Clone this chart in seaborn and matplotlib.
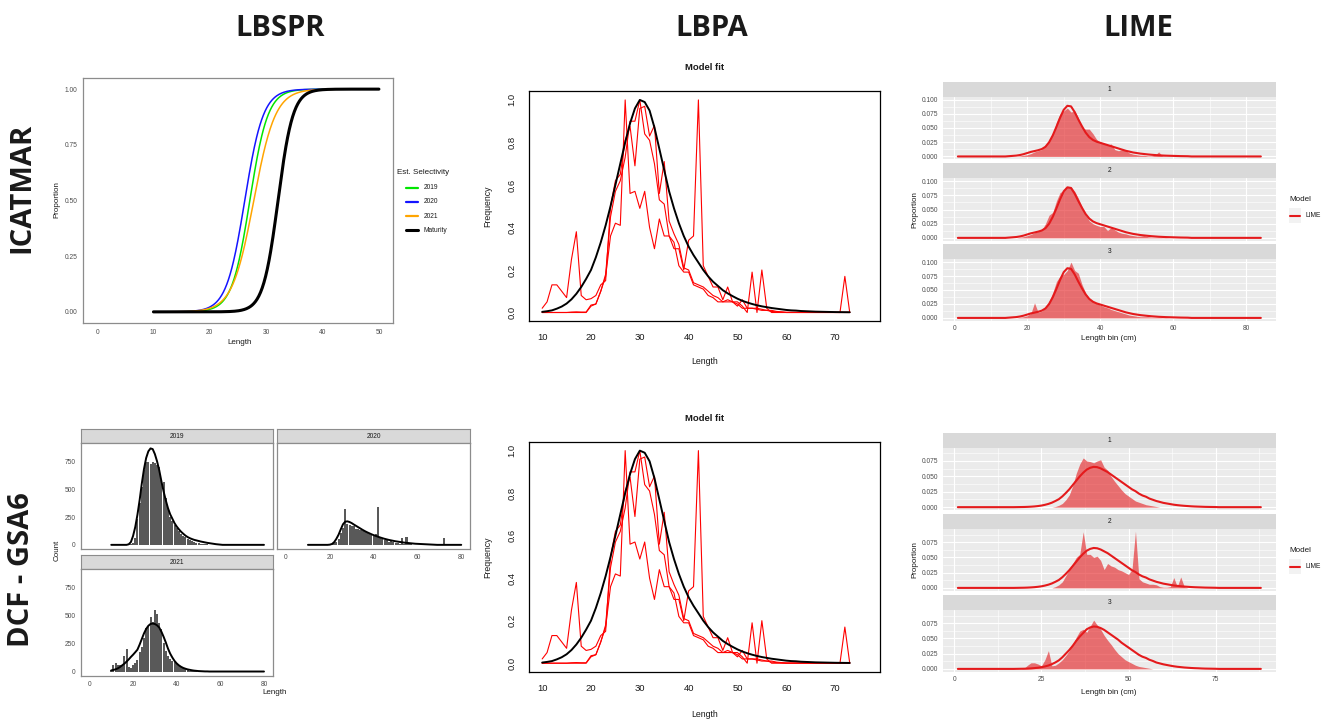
import numpy as np
import pandas as pd
import matplotlib
matplotlib.use("Agg")
import matplotlib.pyplot as plt
import seaborn as sns
from matplotlib.lines import Line2D
from matplotlib.patches import Rectangle
from matplotlib.ticker import FixedLocator

sns.set_style("white")
plt.rcParams["font.family"] = ["Liberation Sans", "DejaVu Sans"]

# ---------------- LBSPR: estimated selectivity (ICATMAR) ----------------
sel_years = ["2019", "2020", "2021"]
sel_l50 = [27.1, 26.2, 27.8]
sel_l95 = [31.8, 31.0, 33.4]
mat_l50, mat_l95 = 32.1, 36.0
sel_colors = ["#00E600", "#1414FF", "#FFA500"]

# ---------------- LBSPR: length counts and fits (DCF - GSA6) ----------------
cnt_2019_start = 14
cnt_2019 = [2, 3, 3, 4, 5, 5,
            20, 60, 230, 380, 520, 670, 740, 740, 730, 745,
            735, 720, 700, 580, 560, 420, 330, 250, 210, 180,
            150, 120, 100, 80, 70, 55, 45, 35, 28, 20,
            15, 10, 8, 5, 4, 3]
fit_2019 = [0, 0, 0, 0, 0, 0, 0, 0, 5, 25,
            80, 160, 270, 400, 550, 680, 780, 840, 866, 860,
            815, 750, 670, 570, 480, 400, 330, 275, 235, 195,
            165, 140, 118, 100, 83, 70, 60, 52, 45, 40,
            35, 30, 26, 22, 18, 15, 12, 9, 6, 4, 2]

cnt_2020_start = 20
cnt_2020 = [2, 5, 15, 30, 50, 110, 150, 321, 190, 180,
            165, 170, 145, 140, 130, 120, 115, 105, 95, 90,
            85, 95, 336, 60, 50, 45, 40, 30, 35, 22,
            20, 15, 8, 62, 8, 68, 6, 4, 3, 2,
            2, 1, 1, 1, 0, 0, 0, 0, 0, 0,
            0, 0, 58, 0]
fit_2020 = [0, 0, 0, 0, 0, 0, 0, 0, 0, 0,
            2, 8, 25, 55, 92, 140, 185, 208, 211, 205,
            195, 182, 170, 158, 146, 134, 123, 113, 104, 95,
            87, 80, 73, 66, 60, 54, 49, 44, 40, 36,
            32, 29, 26, 23, 20, 18, 16, 14, 12, 10,
            9, 8, 7, 6, 5, 4, 3, 2, 1]

cnt_2021_start = 10
cnt_2021 = [10, 55, 72, 60, 55, 45, 137, 203, 40, 35,
            55, 75, 100, 170, 221, 301, 391, 406, 487, 445,
            547, 511, 436, 376, 256, 182, 140, 116, 92, 85,
            77, 50, 38, 28, 23, 15, 8, 6, 4, 3, 2]
fit_2021 = [10, 14, 20, 28, 40, 55, 70, 88, 108, 130,
            150, 172, 195, 240, 290, 340, 380, 408, 424, 428,
            424, 412, 392, 355, 310, 260, 205, 160, 125, 95,
            72, 55, 42, 32, 25, 19, 15, 11, 8, 6,
            4, 3, 2, 1, 1]
fit_start, fit_end = 10, 80

# ---------------- LBPA: observed and fitted length frequencies ----------------
lbpa_len = np.arange(10, 74)
lbpa_2019 = [0, 0, 0, 0, 0, 0, 0.002, 0.003, 0.002, 0.002,
             0.035, 0.04, 0.1, 0.18, 0.45, 0.57, 0.62, 0.73, 0.9, 0.9,
             1.0, 0.84, 0.81, 0.7, 0.53, 0.51, 0.36, 0.33, 0.22, 0.19,
             0.19, 0.13, 0.12, 0.11, 0.08, 0.07, 0.05, 0.05, 0.05, 0.05,
             0.04, 0.02, 0.02, 0.02, 0.015, 0.01, 0.01, 0.005, 0.003, 0.002,
             0.001, 0.001, 0.001, 0.001, 0.001, 0.001, 0.001, 0.001, 0.001, 0.001,
             0.001, 0.001, 0.001, 0.001]
lbpa_2020 = [0, 0, 0, 0, 0, 0, 0, 0, 0, 0,
             0.03, 0.04, 0.1, 0.17, 0.36, 0.42, 0.41, 1.0, 0.56, 0.57,
             0.49, 0.57, 0.4, 0.3, 0.44, 0.36, 0.36, 0.3, 0.3, 0.2,
             0.34, 0.36, 1.0, 0.22, 0.17, 0.12, 0.12, 0.06, 0.12, 0.05,
             0.05, 0.03, 0.0, 0.19, 0.0, 0.2, 0.02, 0.0, 0.0, 0.0,
             0, 0, 0, 0, 0, 0, 0, 0, 0, 0,
             0, 0, 0.17, 0]
lbpa_2021 = [0.02, 0.05, 0.13, 0.13, 0.1, 0.07, 0.25, 0.38, 0.08, 0.06,
             0.065, 0.08, 0.13, 0.15, 0.5, 0.62, 0.65, 0.81, 0.875, 0.69,
             0.96, 0.97, 0.83, 0.88, 0.56, 0.71, 0.43, 0.37, 0.32, 0.21,
             0.2, 0.14, 0.13, 0.12, 0.1, 0.08, 0.07, 0.05, 0.06, 0.05,
             0.03, 0.06, 0.02, 0.02, 0.02, 0.015, 0.01, 0.01, 0.005, 0.003,
             0, 0, 0, 0, 0, 0, 0, 0, 0, 0,
             0, 0, 0, 0]
lbpa_fit = [0.003, 0.006, 0.01, 0.018, 0.028, 0.042, 0.062, 0.088, 0.12, 0.158,
            0.2, 0.26, 0.33, 0.41, 0.5, 0.6, 0.7, 0.8, 0.89, 0.96,
            1.0, 0.99, 0.95, 0.87, 0.77, 0.67, 0.57, 0.49, 0.42, 0.36,
            0.31, 0.27, 0.235, 0.2, 0.17, 0.145, 0.125, 0.105, 0.09, 0.077,
            0.065, 0.055, 0.047, 0.04, 0.034, 0.029, 0.025, 0.021, 0.018, 0.015,
            0.012, 0.01, 0.009, 0.007, 0.006, 0.005, 0.004, 0.0035, 0.003, 0.0025,
            0.002, 0.0017, 0.0014, 0.0012]

# ---------------- LIME: observed proportions and model fit ----------------
icat_bins = np.arange(1, 85)
icat_obs = [
    [0.001, 0.002, 0.003, 0.005, 0.008, 0.01, 0.012, 0.02, 0.028, 0.04,
     0.06, 0.075, 0.08, 0.085, 0.078, 0.08, 0.068, 0.05, 0.048, 0.048,
     0.04, 0.03, 0.025, 0.022, 0.02, 0.022, 0.012, 0.01, 0.012, 0.01,
     0.006, 0.004, 0.003, 0.002, 0.002, 0.001, 0.001, 0.002, 0.008, 0.001,
     0.0005, 0.0005, 0.0005],
    [0.001, 0.002, 0.004, 0.006, 0.009, 0.011, 0.014, 0.025, 0.04, 0.045,
     0.065, 0.08, 0.083, 0.091, 0.09, 0.082, 0.07, 0.055, 0.04, 0.03,
     0.025, 0.022, 0.02, 0.02, 0.013, 0.018, 0.014, 0.01, 0.008, 0.007,
     0.005, 0.004, 0.003, 0.003, 0.004, 0.002, 0.001, 0.001, 0.001, 0.0005,
     0.0005, 0.0, 0.0],
    [0.001, 0.002, 0.004, 0.008, 0.027, 0.01, 0.012, 0.018, 0.03, 0.045,
     0.065, 0.075, 0.078, 0.085, 0.1, 0.085, 0.08, 0.06, 0.045, 0.035,
     0.03, 0.026, 0.023, 0.02, 0.018, 0.015, 0.013, 0.011, 0.009, 0.007,
     0.005, 0.004, 0.003, 0.002, 0.002, 0.002, 0.001, 0.001, 0.001, 0.0005,
     0.0005, 0.0, 0.0],
]
icat_obs_first = 18
icat_fit = [0.0005, 0.001, 0.0015, 0.0025, 0.004, 0.006, 0.008, 0.0095, 0.011, 0.013,
            0.017, 0.025, 0.037, 0.052, 0.068, 0.082, 0.089, 0.088, 0.078, 0.065,
            0.053, 0.042, 0.034, 0.029, 0.026, 0.024, 0.022, 0.02, 0.018, 0.016,
            0.014, 0.012, 0.01, 0.0085, 0.007, 0.006, 0.005, 0.0043, 0.0036, 0.003,
            0.0025, 0.002, 0.0017, 0.0014, 0.0012, 0.001, 0.0008, 0.0006, 0.0005, 0.0004]
icat_fit_first = 15

dcf_bins = np.arange(1, 89)
dcf_obs = [
    [0, 0, 0, 0, 0, 0, 0, 0, 0, 0, 0,
     0.001, 0.003, 0.006, 0.012, 0.02, 0.035, 0.055, 0.07, 0.08, 0.075,
     0.074, 0.072, 0.075, 0.077, 0.065, 0.06, 0.05, 0.042, 0.035, 0.028,
     0.022, 0.018, 0.014, 0.01, 0.008, 0.006, 0.004, 0.003, 0.002, 0.001],
    [0, 0, 0, 0, 0, 0, 0, 0, 0, 0, 0,
     0.002, 0.005, 0.01, 0.02, 0.03, 0.04, 0.05, 0.055, 0.092, 0.055,
     0.055, 0.05, 0.052, 0.045, 0.03, 0.04, 0.036, 0.034, 0.03, 0.028,
     0.025, 0.022, 0.03, 0.093, 0.015, 0.01, 0.008, 0.006, 0.006, 0.005,
     0.002, 0.001, 0.001, 0.002, 0.017, 0.002, 0.018, 0.002],
    [0, 0, 0.001, 0.006, 0.01, 0.01, 0.008, 0.005, 0.015, 0.03, 0.005,
     0.006, 0.01, 0.015, 0.022, 0.03, 0.04, 0.052, 0.062, 0.065, 0.06,
     0.07, 0.08, 0.072, 0.065, 0.055, 0.047, 0.04, 0.032, 0.025, 0.02,
     0.015, 0.012, 0.009, 0.006, 0.004, 0.003, 0.002, 0.001],
]
dcf_obs_first = 18
dcf_fit = [
    [0.0001, 0.0002, 0.0003, 0.0005, 0.0008, 0.0012, 0.0018, 0.0026, 0.0038, 0.0053,
     0.0073, 0.01, 0.013, 0.0175, 0.023, 0.029, 0.036, 0.043, 0.05, 0.056,
     0.061, 0.064, 0.0655, 0.065, 0.063, 0.06, 0.057, 0.053, 0.049, 0.045,
     0.041, 0.037, 0.033, 0.029, 0.026, 0.022, 0.019, 0.017, 0.014, 0.012,
     0.01, 0.0085, 0.007, 0.006, 0.005, 0.004, 0.0033, 0.0027, 0.0022, 0.0018,
     0.0014, 0.0011, 0.0009, 0.0007, 0.0005, 0.0004, 0.0003, 0.0002],
    [0.0001, 0.0002, 0.0003, 0.0005, 0.0008, 0.0012, 0.0018, 0.0026, 0.0038, 0.0053,
     0.0073, 0.01, 0.013, 0.0175, 0.023, 0.029, 0.036, 0.043, 0.05, 0.056,
     0.061, 0.064, 0.0655, 0.065, 0.063, 0.06, 0.057, 0.053, 0.049, 0.045,
     0.041, 0.037, 0.033, 0.029, 0.026, 0.022, 0.019, 0.017, 0.014, 0.012,
     0.01, 0.0085, 0.007, 0.006, 0.005, 0.004, 0.0033, 0.0027, 0.0022, 0.0018,
     0.0014, 0.0011, 0.0009, 0.0007, 0.0005, 0.0004, 0.0003, 0.0002],
    [0.0001, 0.0002, 0.0003, 0.0005, 0.0008, 0.0013, 0.0019, 0.0028, 0.004, 0.0056,
     0.0078, 0.0106, 0.014, 0.019, 0.025, 0.031, 0.038, 0.046, 0.053, 0.059,
     0.065, 0.068, 0.0695, 0.069, 0.067, 0.064, 0.06, 0.056, 0.052, 0.048,
     0.043, 0.039, 0.035, 0.031, 0.027, 0.023, 0.02, 0.018, 0.015, 0.013,
     0.0105, 0.009, 0.0075, 0.0064, 0.0053, 0.0043, 0.0035, 0.0029, 0.0023, 0.0019,
     0.0015, 0.0012, 0.001, 0.0007, 0.0005, 0.0004, 0.0003, 0.0002],
]
dcf_fit_first = 18

RED = "#E41A1C"
BAR = "#595959"

W, H = 1323, 719
fig = plt.figure(figsize=(W / 100, H / 100), dpi=100)


def px_ax(x0, y0, x1, y1):
    return fig.add_axes([x0 / W, 1 - y1 / H, (x1 - x0) / W, (y1 - y0) / H])


def ftext(x, y, s, **kw):
    kw.setdefault("ha", "center")
    kw.setdefault("va", "center")
    fig.text(x / W, 1 - y / H, s, **kw)


def fline(x0, x1, y, **kw):
    fig.add_artist(Line2D([x0 / W, x1 / W], [1 - y / H, 1 - y / H], **kw))


def padded(values, first, n_bins, start=1):
    out = np.zeros(n_bins)
    i0 = first - start
    out[i0:i0 + len(values)] = values
    return out


# ---------------- headers ----------------
head = dict(family="Open Sans", weight="bold", size=21, color="#1A1A1A")
ftext(280, 29, "LBSPR", **head)
ftext(712, 29, "LBPA", **head)
ftext(1138, 29, "LIME", **head)
ftext(22, 188, "ICATMAR", rotation=90, **head)
ftext(22, 570, "DCF - GSA6", rotation=90, **head)

# ---------------- LBSPR selectivity panel ----------------
ax = px_ax(83, 78, 393, 323)
L = np.linspace(10, 50, 401)
rows = []
for yr, l50, l95 in zip(sel_years, sel_l50, sel_l95):
    p = 1 / (1 + np.exp(-np.log(19) * (L - l50) / (l95 - l50)))
    rows.append(pd.DataFrame({"Length": L, "Proportion": p, "Series": yr}))
sel_df = pd.concat(rows)
sns.lineplot(data=sel_df, x="Length", y="Proportion", hue="Series",
             palette=dict(zip(sel_years, sel_colors)), linewidth=1.1,
             legend=False, ax=ax)
mat = 1 / (1 + np.exp(-np.log(19) * (L - mat_l50) / (mat_l95 - mat_l50)))
sns.lineplot(x=L, y=mat, color="black", linewidth=2.2, ax=ax)
ax.set_xlim(-2.5, 52.5)
ax.set_ylim(-0.05, 1.05)
ax.set_xticks([0, 10, 20, 30, 40, 50])
ax.set_yticks([0, 0.25, 0.5, 0.75, 1.0])
ax.set_yticklabels(["0.00", "0.25", "0.50", "0.75", "1.00"])
ax.set_xlabel("")
ax.set_ylabel("")
for s in ax.spines.values():
    s.set_color("#8C8C8C")
    s.set_linewidth(0.9)
ax.tick_params(length=2.2, width=0.5, color="#4D4D4D", labelsize=4.8,
               labelcolor="#4D4D4D", pad=2)
ftext(240, 342, "Length", size=5.8, color="#1A1A1A")
ftext(57, 200, "Proportion", size=5.8, rotation=90, color="#1A1A1A")
ftext(397, 172, "Est. Selectivity", size=5.8, ha="left", color="#1A1A1A")
leg_items = list(zip(sel_years, sel_colors, [1.6] * 3)) + [("Maturity", "black", 2.2)]
for i, (lab, col, lw) in enumerate(leg_items):
    yy = 187.5 + i * 14.3
    fline(406, 418, yy, color=col, linewidth=lw)
    ftext(424, yy, lab, size=4.8, ha="left", color="#1A1A1A")

# ---------------- LBPA panels ----------------
lbpa_df = pd.concat([
    pd.DataFrame({"Length": lbpa_len, "Frequency": vals, "Year": yr})
    for yr, vals in zip(sel_years, [lbpa_2019, lbpa_2020, lbpa_2021])
])


def lbpa_panel(top, bottom, title_y, xlab_y, ylab_y):
    ax = px_ax(529, top, 880, bottom)
    sns.lineplot(data=lbpa_df, x="Length", y="Frequency", hue="Year",
                 palette=["#FF0000"] * 3, linewidth=0.8, legend=False, ax=ax)
    sns.lineplot(x=lbpa_len, y=lbpa_fit, color="black", linewidth=1.4, ax=ax)
    ax.set_xlim(7.3, 79.2)
    ax.set_ylim(-0.04, 1.042)
    ax.set_xticks([10, 20, 30, 40, 50, 60, 70])
    ax.set_yticks([0, 0.2, 0.4, 0.6, 0.8, 1.0])
    ax.set_yticklabels(["0.0", "0.2", "0.4", "0.6", "0.8", "1.0"],
                       rotation=90, va="center")
    ax.set_xlabel("")
    ax.set_ylabel("")
    for s in ax.spines.values():
        s.set_color("black")
        s.set_linewidth(0.9)
    ax.tick_params(length=3, width=0.6, color="black", labelsize=6.8,
                   labelcolor="#1A1A1A", pad=6)
    ftext(705, title_y, "Model fit", size=6.8, weight="bold", color="#1A1A1A")
    ftext(705, xlab_y, "Length", size=6.3, color="#1A1A1A")
    ftext(488, ylab_y, "Frequency", size=6.3, rotation=90, color="#1A1A1A")


lbpa_panel(91, 321, 67.7, 362, 206)
lbpa_panel(441.7, 671.7, 418.3, 714.5, 557)

# ---------------- LIME panels ----------------


def strip(x0, y0, x1, y1, label, border=None):
    s_ax = px_ax(x0, y0, x1, y1)
    s_ax.set_facecolor("#D9D9D9")
    s_ax.set_xticks([])
    s_ax.set_yticks([])
    for s in s_ax.spines.values():
        if border is None:
            s.set_visible(False)
        else:
            s.set_color(border)
            s.set_linewidth(0.8)
    s_ax.text(0.5, 0.5, label, transform=s_ax.transAxes, ha="center",
              va="center", size=4.8, color="#1A1A1A")


def lime_panel(box, bins, obs, fit, xlim, ylim, xmaj, xmin, ymaj, ymin,
               ylabels, xlabels):
    ax = px_ax(*box)
    ax.set_facecolor("#EBEBEB")
    for s in ax.spines.values():
        s.set_visible(False)
    ax.fill_between(bins, obs, 0, color=RED, alpha=0.6, linewidth=0, zorder=2)
    sns.lineplot(x=bins, y=fit, color=RED, linewidth=1.5, ax=ax, zorder=3)
    ax.set_xlim(*xlim)
    ax.set_ylim(*ylim)
    ax.xaxis.set_major_locator(FixedLocator(xmaj))
    ax.xaxis.set_minor_locator(FixedLocator(xmin))
    ax.yaxis.set_major_locator(FixedLocator(ymaj))
    ax.yaxis.set_minor_locator(FixedLocator(ymin))
    ax.grid(which="major", color="white", linewidth=0.8)
    ax.grid(which="minor", color="white", linewidth=0.4)
    ax.set_axisbelow(True)
    ax.set_yticklabels(ylabels)
    ax.set_xlabel("")
    ax.set_ylabel("")
    ax.tick_params(which="minor", length=0)
    ax.tick_params(which="major", length=2, width=0.5, color="#333333",
                   labelsize=4.8, labelcolor="#4D4D4D", pad=1)
    if xlabels is None:
        ax.set_xticklabels([])
        ax.tick_params(axis="x", which="major", length=0)
    else:
        ax.set_xticklabels(xlabels)
    return ax


def lime_block(strips, panels, bins, obs_list, obs_first, fit_list, fit_first,
               xlim, ylim, xmaj, xmin, xlabels, ymaj, ymin, ylabels,
               ylab_y, xlab_y, legend_y):
    x0, x1 = 942.7, 1276
    n = len(bins)
    for i in range(3):
        strip(x0, strips[i][0], x1, strips[i][1], str(i + 1))
        obs = padded(obs_list[i], obs_first, n)
        fit = padded(fit_list[i], fit_first, n)
        lime_panel((x0, panels[i][0], x1, panels[i][1]), bins, obs, fit,
                   xlim, ylim, xmaj, xmin, ymaj, ymin, ylabels,
                   xlabels if i == 2 else None)
    ftext(915, ylab_y, "Proportion", size=5.8, rotation=90, color="#1A1A1A")
    ftext(1109, xlab_y, "Length bin (cm)", size=5.8, color="#1A1A1A")
    ftext(1289, legend_y, "Model", size=5.8, ha="left", color="#1A1A1A")
    fig.add_artist(Rectangle((1289 / W, 1 - (legend_y + 24) / H), 12 / W, 15 / H,
                             transform=fig.transFigure, facecolor="#F2F2F2",
                             edgecolor="none"))
    fline(1290, 1300, legend_y + 16.5, color=RED, linewidth=1.5)
    ftext(1306, legend_y + 16.5, "LIME", size=4.8, ha="left", color="#1A1A1A")


lime_block(strips=[(81.7, 96.7), (162.7, 178.3), (244, 259.3)],
           panels=[(96.7, 159.3), (178.3, 240.7), (259.3, 320.7)],
           bins=icat_bins, obs_list=icat_obs, obs_first=icat_obs_first,
           fit_list=[icat_fit] * 3, fit_first=icat_fit_first,
           xlim=(-3.15, 88.15), ylim=(-0.005, 0.105),
           xmaj=[0, 20, 40, 60, 80], xmin=[10, 30, 50, 70],
           xlabels=["0", "20", "40", "60", "80"],
           ymaj=[0, 0.025, 0.05, 0.075, 0.1],
           ymin=[0.0125, 0.0375, 0.0625, 0.0875],
           ylabels=["0.000", "0.025", "0.050", "0.075", "0.100"],
           ylab_y=210, xlab_y=338.5, legend_y=199.3)

lime_block(strips=[(433.3, 447.7), (514.3, 529), (595, 610)],
           panels=[(447.7, 510), (529, 590.7), (610, 671.7)],
           bins=dcf_bins, obs_list=dcf_obs, obs_first=dcf_obs_first,
           fit_list=dcf_fit, fit_first=dcf_fit_first,
           xlim=(-3.35, 92.35), ylim=(-0.0046, 0.0966),
           xmaj=[0, 25, 50, 75], xmin=[12.5, 37.5, 62.5, 87.5],
           xlabels=["0", "25", "50", "75"],
           ymaj=[0, 0.025, 0.05, 0.075],
           ymin=[0.0125, 0.0375, 0.0625, 0.0875],
           ylabels=["0.000", "0.025", "0.050", "0.075"],
           ylab_y=560, xlab_y=692, legend_y=550)

# ---------------- LBSPR count panels (DCF - GSA6) ----------------


def hist_panel(box, start, counts, fit_vals, show_x, show_y):
    ax = px_ax(*box)
    lens = np.arange(start, start + len(counts))
    sns.histplot(x=lens, weights=counts, discrete=True, shrink=0.93,
                 color=BAR, alpha=1.0, linewidth=0, ax=ax)
    fit_len = np.arange(fit_start, fit_end + 1)
    fit_full = padded(fit_vals, fit_start, len(fit_len), start=fit_start)
    sns.lineplot(x=fit_len, y=fit_full, color="black", linewidth=1.4, ax=ax)
    ax.set_xlim(-4, 84)
    ax.set_ylim(-40, 912)
    ax.set_xticks([0, 20, 40, 60, 80])
    ax.set_yticks([0, 250, 500, 750])
    ax.set_xlabel("")
    ax.set_ylabel("")
    for s in ax.spines.values():
        s.set_color("#8C8C8C")
        s.set_linewidth(0.9)
    ax.tick_params(length=2, width=0.5, color="#4D4D4D", labelsize=4.8,
                   labelcolor="#4D4D4D", pad=1.5)
    if not show_x:
        ax.tick_params(axis="x", length=0, labelbottom=False)
    if not show_y:
        ax.tick_params(axis="y", length=0, labelleft=False)
    return ax


strip(80.7, 429.3, 272.7, 443.3, "2019", border="#8C8C8C")
strip(277.3, 429.3, 470, 443.3, "2020", border="#8C8C8C")
strip(80.7, 555, 272.7, 569.3, "2021", border="#8C8C8C")
hist_panel((80.7, 443.3, 272.7, 549.3), cnt_2019_start, cnt_2019, fit_2019, False, True)
hist_panel((277.3, 443.3, 470, 549.3), cnt_2020_start, cnt_2020, fit_2020, True, False)
hist_panel((80.7, 569.3, 272.7, 676), cnt_2021_start, cnt_2021, fit_2021, True, True)
ftext(57, 550, "Count", size=5.8, rotation=90, color="#1A1A1A")
ftext(275, 693, "Length", size=5.8, color="#1A1A1A")

fig.savefig("out.png", dpi=100)
